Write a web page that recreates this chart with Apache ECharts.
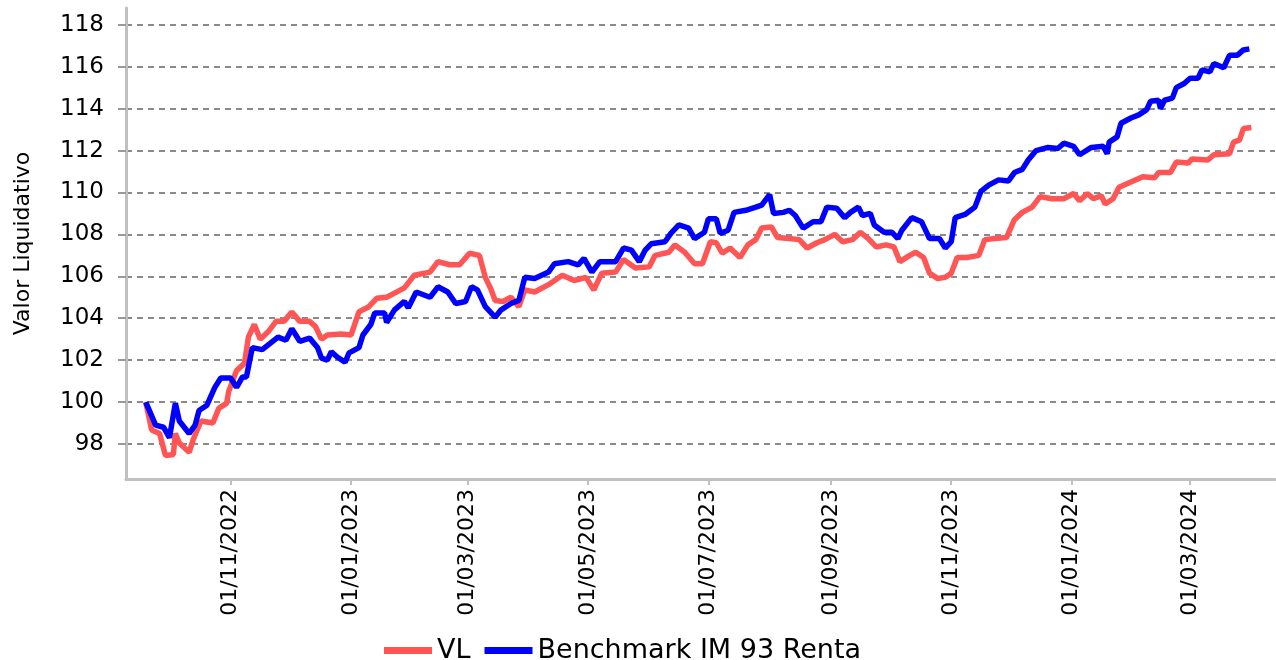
<!DOCTYPE html>
<html lang="es">
<head>
    <meta charset="UTF-8">
    <title>Valor Liquidativo</title>
</head>
<body style="margin: 0; background: #fff">
    <div id="main" style="width:1276px;height:660px"></div>
    <script src="https://cdn.jsdelivr.net/npm/echarts@6/dist/echarts.min.js"></script>
    <script type="text/javascript">

        // VL del fondo
        var vlDates = ['2022-09-19', '2022-09-22', '2022-09-26', '2022-09-29', '2022-10-03', '2022-10-04', '2022-10-06', '2022-10-11',
            '2022-10-13', '2022-10-17', '2022-10-23', '2022-10-26', '2022-10-30', '2022-10-31', '2022-11-04', '2022-11-08',
            '2022-11-10', '2022-11-13', '2022-11-16', '2022-11-20', '2022-11-24', '2022-11-28', '2022-12-02', '2022-12-06',
            '2022-12-11', '2022-12-14', '2022-12-17', '2022-12-20', '2022-12-27', '2023-01-01', '2023-01-05', '2023-01-10',
            '2023-01-14', '2023-01-19', '2023-01-23', '2023-01-28', '2023-02-02', '2023-02-10', '2023-02-14', '2023-02-20',
            '2023-02-25', '2023-03-02', '2023-03-07', '2023-03-10', '2023-03-13', '2023-03-15', '2023-03-19', '2023-03-23',
            '2023-03-27', '2023-03-30', '2023-04-04', '2023-04-11', '2023-04-18', '2023-04-24', '2023-04-30', '2023-05-04',
            '2023-05-08', '2023-05-15', '2023-05-19', '2023-05-25', '2023-06-01', '2023-06-04', '2023-06-11', '2023-06-14',
            '2023-06-19', '2023-06-24', '2023-06-28', '2023-07-02', '2023-07-05', '2023-07-08', '2023-07-12', '2023-07-17',
            '2023-07-21', '2023-07-25', '2023-07-28', '2023-08-02', '2023-08-05', '2023-08-11', '2023-08-16', '2023-08-20',
            '2023-08-25', '2023-08-29', '2023-09-03', '2023-09-07', '2023-09-12', '2023-09-16', '2023-09-20', '2023-09-24',
            '2023-09-29', '2023-10-03', '2023-10-06', '2023-10-11', '2023-10-14', '2023-10-18', '2023-10-21', '2023-10-25',
            '2023-10-29', '2023-11-01', '2023-11-04', '2023-11-09', '2023-11-15', '2023-11-18', '2023-11-23', '2023-11-29',
            '2023-12-03', '2023-12-07', '2023-12-12', '2023-12-16', '2023-12-22', '2023-12-28', '2024-01-02', '2024-01-05',
            '2024-01-09', '2024-01-12', '2024-01-16', '2024-01-18', '2024-01-22', '2024-01-25', '2024-01-31', '2024-02-06',
            '2024-02-12', '2024-02-14', '2024-02-20', '2024-02-23', '2024-02-29', '2024-03-02', '2024-03-10', '2024-03-13',
            '2024-03-21', '2024-03-23', '2024-03-26', '2024-03-28', '2024-04-01'];
        var vlValues = [100.0, 98.67, 98.5, 97.45, 97.5, 98.5, 98.05, 97.6,
            98.2, 99.1, 99.0, 99.7, 99.95, 100.5, 101.5, 101.85,
            103.1, 103.7, 103.0, 103.35, 103.85, 103.85, 104.3, 103.85,
            103.85, 103.6, 103.0, 103.2, 103.25, 103.2, 104.3, 104.55,
            104.95, 105.0, 105.2, 105.45, 106.05, 106.2, 106.7, 106.55,
            106.55, 107.1, 107.0, 105.95, 105.35, 104.85, 104.8, 105.0,
            104.55, 105.35, 105.25, 105.6, 106.05, 105.8, 105.95, 105.35,
            106.15, 106.2, 106.8, 106.4, 106.45, 107.0, 107.15, 107.5,
            107.15, 106.6, 106.6, 107.65, 107.6, 107.1, 107.35, 106.9,
            107.5, 107.75, 108.3, 108.35, 107.85, 107.8, 107.75, 107.35,
            107.6, 107.75, 108.0, 107.65, 107.75, 108.1, 107.8, 107.4,
            107.5, 107.4, 106.7, 107.0, 107.15, 106.9, 106.15, 105.9,
            105.95, 106.15, 106.9, 106.9, 107.0, 107.75, 107.8, 107.85,
            108.7, 109.05, 109.3, 109.8, 109.7, 109.7, 109.95, 109.6,
            109.95, 109.7, 109.85, 109.45, 109.7, 110.25, 110.5, 110.75,
            110.7, 110.95, 110.95, 111.45, 111.4, 111.6, 111.55, 111.8,
            111.85, 112.4, 112.5, 113.05, 113.1];

        // Benchmark IM 93 Renta
        var bmDates = ['2022-09-19', '2022-09-24', '2022-09-28', '2022-10-01', '2022-10-04', '2022-10-06', '2022-10-11', '2022-10-14',
            '2022-10-16', '2022-10-20', '2022-10-24', '2022-10-27', '2022-11-01', '2022-11-04', '2022-11-07', '2022-11-09',
            '2022-11-12', '2022-11-17', '2022-11-21', '2022-11-25', '2022-11-29', '2022-12-02', '2022-12-06', '2022-12-11',
            '2022-12-15', '2022-12-17', '2022-12-20', '2022-12-22', '2022-12-25', '2022-12-29', '2022-12-31', '2023-01-05',
            '2023-01-07', '2023-01-11', '2023-01-13', '2023-01-18', '2023-01-19', '2023-01-23', '2023-01-28', '2023-01-30',
            '2023-02-03', '2023-02-10', '2023-02-14', '2023-02-19', '2023-02-23', '2023-02-28', '2023-03-03', '2023-03-06',
            '2023-03-10', '2023-03-15', '2023-03-18', '2023-03-23', '2023-03-27', '2023-03-30', '2023-04-04', '2023-04-11',
            '2023-04-14', '2023-04-21', '2023-04-26', '2023-04-29', '2023-05-03', '2023-05-07', '2023-05-15', '2023-05-19',
            '2023-05-23', '2023-05-27', '2023-05-30', '2023-06-02', '2023-06-09', '2023-06-12', '2023-06-16', '2023-06-21',
            '2023-06-24', '2023-06-29', '2023-07-01', '2023-07-05', '2023-07-07', '2023-07-11', '2023-07-14', '2023-07-20',
            '2023-07-25', '2023-07-28', '2023-08-01', '2023-08-03', '2023-08-08', '2023-08-11', '2023-08-14', '2023-08-18',
            '2023-08-23', '2023-08-27', '2023-08-30', '2023-09-04', '2023-09-08', '2023-09-11', '2023-09-15', '2023-09-17',
            '2023-09-21', '2023-09-23', '2023-09-28', '2023-10-02', '2023-10-05', '2023-10-07', '2023-10-12', '2023-10-17',
            '2023-10-21', '2023-10-26', '2023-10-29', '2023-11-01', '2023-11-03', '2023-11-08', '2023-11-13', '2023-11-16',
            '2023-11-20', '2023-11-25', '2023-11-30', '2023-12-03', '2023-12-07', '2023-12-10', '2023-12-14', '2023-12-20',
            '2023-12-25', '2023-12-28', '2024-01-02', '2024-01-05', '2024-01-11', '2024-01-17', '2024-01-19', '2024-01-20',
            '2024-01-24', '2024-01-26', '2024-01-31', '2024-02-04', '2024-02-08', '2024-02-10', '2024-02-14', '2024-02-15',
            '2024-02-17', '2024-02-21', '2024-02-23', '2024-02-27', '2024-03-01', '2024-03-05', '2024-03-07', '2024-03-11',
            '2024-03-13', '2024-03-18', '2024-03-21', '2024-03-25', '2024-03-28', '2024-03-31'];
        var bmValues = [100.0, 98.9, 98.8, 98.3, 99.95, 99.1, 98.5, 98.9,
            99.6, 99.85, 100.7, 101.15, 101.15, 100.7, 101.2, 101.2,
            102.6, 102.5, 102.8, 103.1, 102.95, 103.5, 102.9, 103.05,
            102.6, 102.1, 102.0, 102.4, 102.15, 101.9, 102.35, 102.6,
            103.2, 103.7, 104.25, 104.25, 103.8, 104.4, 104.8, 104.5,
            105.25, 105.0, 105.5, 105.25, 104.7, 104.8, 105.5, 105.35,
            104.55, 104.05, 104.4, 104.7, 104.85, 105.95, 105.9, 106.2,
            106.6, 106.7, 106.55, 106.85, 106.2, 106.7, 106.7, 107.35,
            107.25, 106.7, 107.25, 107.55, 107.65, 108.05, 108.45, 108.3,
            107.8, 108.1, 108.75, 108.75, 108.05, 108.2, 109.05, 109.15,
            109.3, 109.4, 109.9, 109.0, 109.05, 109.15, 108.9, 108.3,
            108.6, 108.6, 109.3, 109.25, 108.8, 109.05, 109.3, 108.9,
            109.0, 108.45, 108.1, 108.1, 107.8, 108.2, 108.8, 108.6,
            107.8, 107.8, 107.35, 107.65, 108.8, 108.95, 109.3, 110.05,
            110.35, 110.6, 110.55, 110.95, 111.1, 111.55, 112.0, 112.15,
            112.1, 112.35, 112.2, 111.8, 112.15, 112.2, 111.85, 112.4,
            112.65, 113.3, 113.55, 113.7, 113.95, 114.35, 114.4, 114.0,
            114.4, 114.5, 115.0, 115.2, 115.45, 115.45, 115.85, 115.75,
            116.15, 115.95, 116.55, 116.55, 116.8, 116.85];

        // etiquetas del eje X (cada dos meses)
        var tickDates = ['2022-11-01', '2023-01-01', '2023-03-01', '2023-05-01', '2023-07-01',
            '2023-09-01', '2023-11-01', '2024-01-01', '2024-03-01'];
        // etiquetas del eje Y
        var yTicks = [98, 100, 102, 104, 106, 108, 110, 112, 114, 116, 118];

        function toTime(s) {
            var p = s.split('-');
            return new Date(+p[0], +p[1] - 1, +p[2]).getTime();
        }
        function pad(n) {
            return (n < 10 ? '0' : '') + n;
        }
        function pairs(dates, values) {
            return dates.map(function (d, i) {
                return [toTime(d), values[i]];
            });
        }

        var chartDom = document.getElementById('main');
        var myChart = echarts.init(chartDom);
        var font = 'DejaVu Sans';

        var option = {
            animation: false,
            grid: {
                left: 126,
                right: 1,
                top: 8,
                bottom: 181
            },
            legend: {
                left: 379,
                top: 632,
                icon: 'rect',
                itemWidth: 48,
                itemHeight: 7,
                itemGap: 14,
                textStyle: { fontFamily: font, fontSize: 27, color: '#000' },
                data: ['VL', 'Benchmark IM 93 Renta']
            },
            // eje temporal como valor (timestamps) para fijar las marcas
            xAxis: {
                type: 'value',
                min: toTime('2022-09-09'),
                max: toTime('2024-04-13'),
                axisLine: { lineStyle: { color: '#c0c0c0', width: 3 } },
                axisTick: {
                    show: true,
                    length: 6,
                    lineStyle: { color: '#c0c0c0', width: 2 },
                    customValues: tickDates.map(toTime)
                },
                splitLine: { show: false },
                axisLabel: {
                    rotate: 90,
                    margin: 10,
                    fontFamily: font,
                    fontSize: 22,
                    color: '#000',
                    customValues: tickDates.map(toTime),
                    formatter: function (v) {
                        var d = new Date(v);
                        return pad(d.getDate()) + '/' + pad(d.getMonth() + 1) + '/' + d.getFullYear();
                    }
                }
            },
            yAxis: {
                type: 'value',
                min: 96.33,
                max: 118.8,
                name: 'Valor Liquidativo',
                nameLocation: 'middle',
                nameGap: 92,
                nameTextStyle: { fontFamily: font, fontSize: 22, color: '#000' },
                axisLine: { show: true, lineStyle: { color: '#c0c0c0', width: 3 } },
                axisTick: {
                    show: true,
                    length: 8,
                    lineStyle: { color: '#999', width: 2 },
                    customValues: yTicks
                },
                axisLabel: {
                    margin: 22,
                    fontFamily: font,
                    fontSize: 23,
                    color: '#000',
                    customValues: yTicks
                },
                splitLine: {
                    show: true,
                    lineStyle: { color: '#8a8a8a', width: 2, type: [6, 5] }
                }
            },
            series: [
                {
                    name: 'VL',
                    type: 'line',
                    symbol: 'none',
                    color: '#ff5555',
                    lineStyle: { width: 5.5, color: '#ff5555' },
                    data: pairs(vlDates, vlValues)
                },
                {
                    name: 'Benchmark IM 93 Renta',
                    type: 'line',
                    symbol: 'none',
                    color: '#0000ff',
                    lineStyle: { width: 5.5, color: '#0000ff' },
                    data: pairs(bmDates, bmValues)
                }
            ]
        };

        myChart.setOption(option);

    </script>
</body>
</html>
